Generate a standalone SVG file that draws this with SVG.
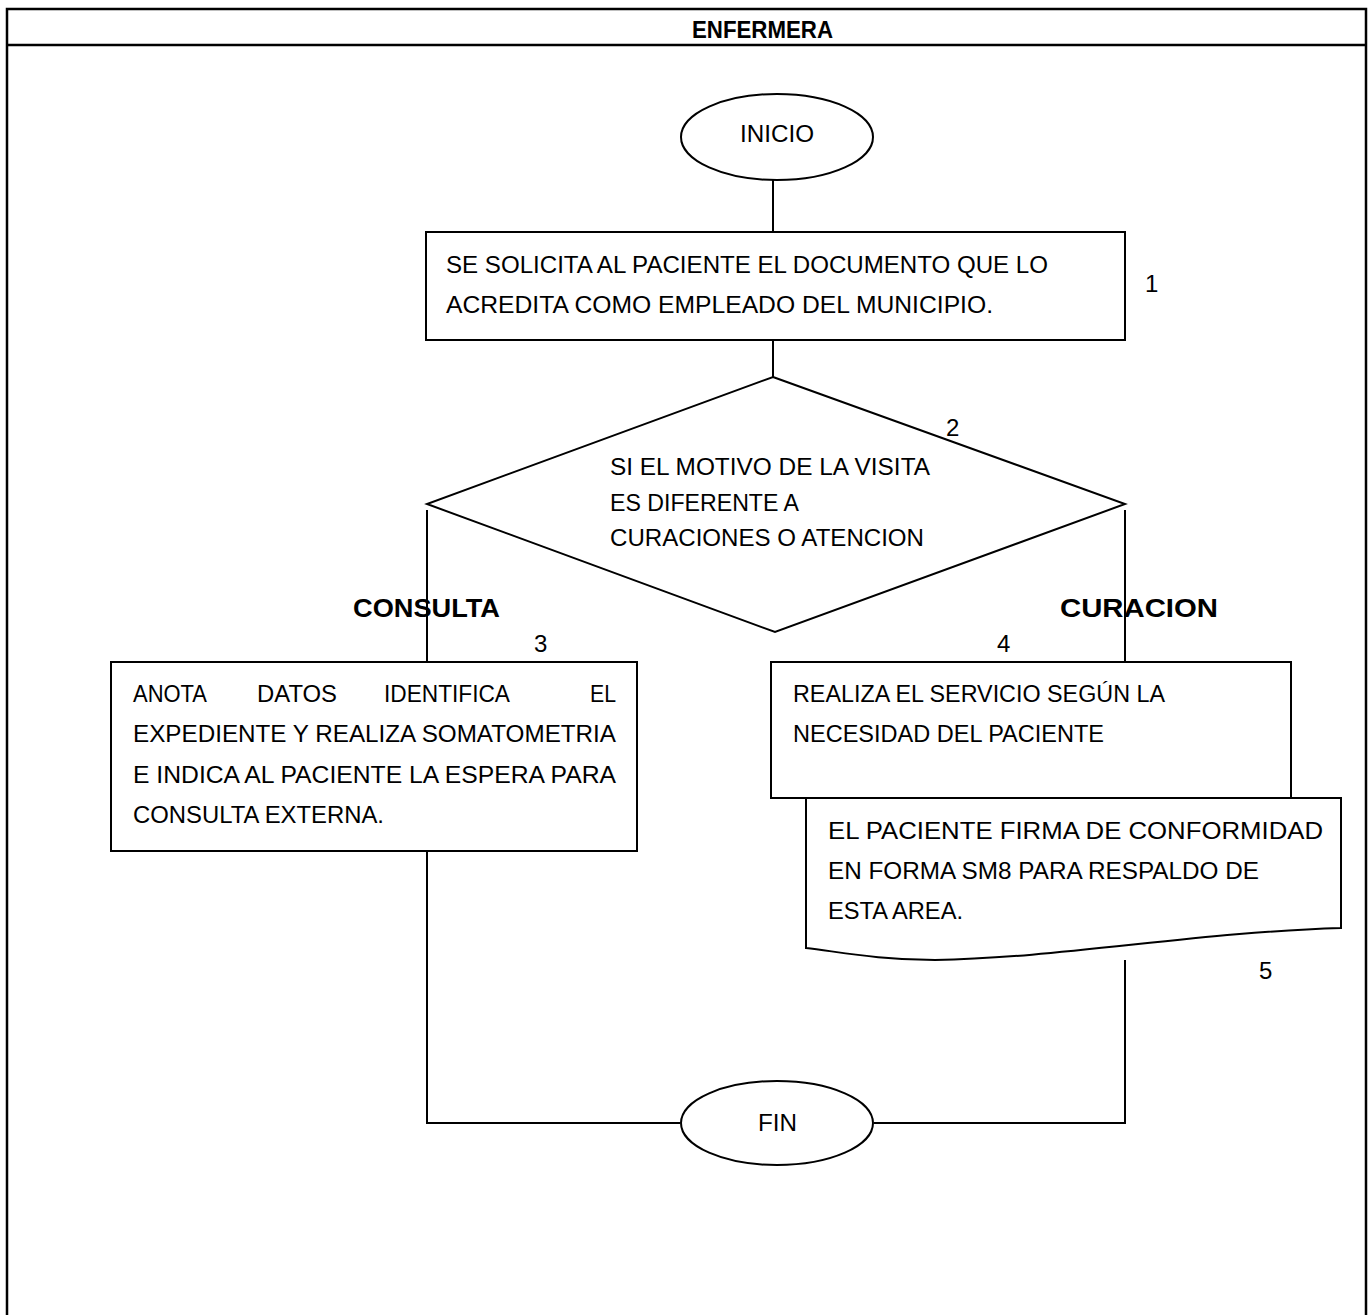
<svg xmlns="http://www.w3.org/2000/svg" width="1368" height="1315" viewBox="0 0 1368 1315">
  <style>
    .frame { fill: none; stroke: #000; stroke-width: 2.5; }
    .shape { fill: #fff; stroke: #000; stroke-width: 2; }
    .conn { fill: none; stroke: #000; stroke-width: 2; }
    .txt { font-family: "Liberation Sans", "Noto Sans", Arial, sans-serif; font-size: 23px; fill: #000; }
    .num { font-family: "Liberation Sans", "Noto Sans", Arial, sans-serif; font-size: 24px; fill: #000; }
    .lbl { font-family: "Liberation Sans", Arial, sans-serif; font-size: 25px; font-weight: bold; fill: #000; }
    .hdr { font-family: "Liberation Sans", Arial, sans-serif; font-size: 23px; font-weight: bold; fill: #000; }
  </style>
  <rect width="1368" height="1315" fill="#fff"/>

  <!-- lane frame with header -->
  <g id="lane">
    <path class="frame" d="M7,1316 V9 H1366 V1316"/>
    <line class="frame" x1="7" y1="45" x2="1366" y2="45"/>
    <text class="hdr" x="692" y="38" textLength="141" lengthAdjust="spacingAndGlyphs">ENFERMERA</text>
  </g>

  <!-- connectors -->
  <g id="connectors">
    <line class="conn" x1="773" y1="180" x2="773" y2="232"/>
    <line class="conn" x1="773" y1="340" x2="773" y2="377"/>
    <line class="conn" x1="427" y1="510" x2="427" y2="662"/>
    <line class="conn" x1="1125" y1="510" x2="1125" y2="662"/>
    <polyline class="conn" points="427,851 427,1123 680,1123"/>
    <polyline class="conn" points="1125,960 1125,1123 874,1123"/>
  </g>

  <!-- start -->
  <g id="inicio">
    <ellipse class="shape" cx="777" cy="137" rx="96" ry="43"/>
    <text class="txt" x="740" y="142" textLength="74" lengthAdjust="spacingAndGlyphs">INICIO</text>
  </g>

  <!-- step 1 -->
  <g id="paso1">
    <rect class="shape" x="426" y="232" width="699" height="108"/>
    <text class="txt" x="446" y="273" textLength="602" lengthAdjust="spacingAndGlyphs">SE SOLICITA AL PACIENTE EL DOCUMENTO QUE LO</text>
    <text class="txt" x="446" y="313" textLength="547" lengthAdjust="spacingAndGlyphs">ACREDITA COMO EMPLEADO DEL MUNICIPIO.</text>
    <text class="num" x="1145" y="292">1</text>
  </g>

  <!-- decision 2 -->
  <g id="decision2">
    <polygon class="shape" points="773,377 1125,504 775,632 427,504"/>
    <text class="txt" x="610" y="475" textLength="320" lengthAdjust="spacingAndGlyphs">SI EL MOTIVO DE LA VISITA</text>
    <text class="txt" x="610" y="511" textLength="189" lengthAdjust="spacingAndGlyphs">ES DIFERENTE A</text>
    <text class="txt" x="610" y="546" textLength="314" lengthAdjust="spacingAndGlyphs">CURACIONES O ATENCION</text>
    <text class="num" x="946" y="436">2</text>
  </g>

  <!-- branch labels -->
  <g id="etiquetas">
    <text class="lbl" x="353" y="617" textLength="147" lengthAdjust="spacingAndGlyphs">CONSULTA</text>
    <text class="lbl" x="1060" y="617" textLength="158" lengthAdjust="spacingAndGlyphs">CURACION</text>
  </g>

  <!-- step 3 -->
  <g id="paso3">
    <rect class="shape" x="111" y="662" width="526" height="189"/>
    <text class="txt" x="133" y="702" textLength="74" lengthAdjust="spacingAndGlyphs">ANOTA</text>
    <text class="txt" x="257" y="702" textLength="80" lengthAdjust="spacingAndGlyphs">DATOS</text>
    <text class="txt" x="384" y="702" textLength="126" lengthAdjust="spacingAndGlyphs">IDENTIFICA</text>
    <text class="txt" x="590" y="702" textLength="26" lengthAdjust="spacingAndGlyphs">EL</text>
    <text class="txt" x="133" y="742" textLength="483" lengthAdjust="spacingAndGlyphs">EXPEDIENTE Y REALIZA SOMATOMETRIA</text>
    <text class="txt" x="133" y="783" textLength="483" lengthAdjust="spacingAndGlyphs">E INDICA AL PACIENTE LA ESPERA PARA</text>
    <text class="txt" x="133" y="823" textLength="251" lengthAdjust="spacingAndGlyphs">CONSULTA EXTERNA.</text>
    <text class="num" x="534" y="652">3</text>
  </g>

  <!-- step 4 -->
  <g id="paso4">
    <rect class="shape" x="771" y="662" width="520" height="136"/>
    <text class="txt" x="793" y="702" textLength="372" lengthAdjust="spacingAndGlyphs">REALIZA EL SERVICIO SEGÚN LA</text>
    <text class="txt" x="793" y="742" textLength="311" lengthAdjust="spacingAndGlyphs">NECESIDAD DEL PACIENTE</text>
    <text class="num" x="997" y="652">4</text>
  </g>

  <!-- step 5: document -->
  <g id="paso5">
    <path class="shape" d="M806,798 H1341 V928 C1200,932 1060,958 935,960 C880,960 840,952 806,948 Z"/>
    <text class="txt" x="828" y="839" textLength="495" lengthAdjust="spacingAndGlyphs">EL PACIENTE FIRMA DE CONFORMIDAD</text>
    <text class="txt" x="828" y="879" textLength="431" lengthAdjust="spacingAndGlyphs">EN FORMA SM8 PARA RESPALDO DE</text>
    <text class="txt" x="828" y="919" textLength="135" lengthAdjust="spacingAndGlyphs">ESTA AREA.</text>
    <text class="num" x="1259" y="979">5</text>
  </g>

  <!-- end -->
  <g id="fin">
    <ellipse class="shape" cx="777" cy="1123" rx="96" ry="42"/>
    <text class="txt" x="758" y="1131" textLength="39" lengthAdjust="spacingAndGlyphs">FIN</text>
  </g>
</svg>
